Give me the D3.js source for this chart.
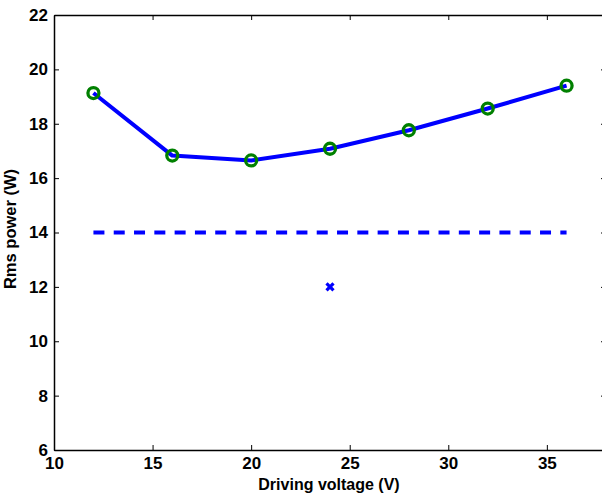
<!DOCTYPE html>
<html>
<head>
<meta charset="utf-8">
<script src="https://cdn.jsdelivr.net/npm/d3@7"></script>
<style>
  html, body { margin: 0; padding: 0; background: #fff; overflow: hidden; }
  text { font-family: "Liberation Sans", Arial, Helvetica, sans-serif; font-weight: bold; fill: #000; }
</style>
</head>
<body>
<svg id="chart" width="602" height="495"></svg>
<script>
// Measured rms power against driving voltage
const voltages = [12, 16, 20, 24, 28, 32, 36];
const rmsPower = [19.13, 16.83, 16.65, 17.08, 17.76, 18.56, 19.40];
// Reference level drawn as a dashed line
const refLevel = 14;
const refRange = [12, 36];
// Single marked point
const markPoint = [24, 12];
const xTicks = [10, 15, 20, 25, 30, 35];
const yTicks = [6, 8, 10, 12, 14, 16, 18, 20, 22];

const svg = d3.select("#chart");
const plotL = 54, plotT = 15, plotR = 606, plotB = 450;

const x = d3.scaleLinear().domain([10, 38]).range([plotL, plotR]);
const y = d3.scaleLinear().domain([6, 22]).range([plotB, plotT]);

// Frame axes with inward ticks on all four sides
const tickLen = 5;
const gB = svg.append("g").attr("transform", `translate(0,${plotB})`)
  .call(d3.axisBottom(x).tickValues(xTicks).tickSizeInner(-tickLen).tickSizeOuter(0).tickPadding(7));
const gT = svg.append("g").attr("transform", `translate(0,${plotT})`)
  .call(d3.axisTop(x).tickValues(xTicks).tickSizeInner(-tickLen).tickSizeOuter(0).tickFormat(""));
const gL = svg.append("g").attr("transform", `translate(${plotL},0)`)
  .call(d3.axisLeft(y).tickValues(yTicks).tickSizeInner(-tickLen).tickSizeOuter(0).tickPadding(6));
const gR = svg.append("g").attr("transform", `translate(${plotR},0)`)
  .call(d3.axisRight(y).tickValues(yTicks).tickSizeInner(-tickLen).tickSizeOuter(0).tickFormat(""));

[gB, gT, gL, gR].forEach(g => {
  g.select(".domain").attr("stroke", "#000").attr("stroke-width", 1.5);
  g.selectAll(".tick line").attr("stroke", "#000").attr("stroke-width", 1);
  g.selectAll("text").attr("font-size", 17).attr("font-family", "Liberation Sans, Arial, sans-serif")
    .attr("font-weight", "bold").attr("fill", "#000");
});

// Axis titles
svg.append("text").attr("x", 329).attr("y", 490)
  .attr("text-anchor", "middle").attr("font-size", 16).text("Driving voltage (V)");
svg.append("text").attr("transform", "translate(16,229) rotate(-90)")
  .attr("text-anchor", "middle").attr("font-size", 16.5).text("Rms power (W)");

// Dashed reference line
svg.append("line")
  .attr("x1", x(refRange[0])).attr("x2", x(refRange[1]))
  .attr("y1", y(refLevel)).attr("y2", y(refLevel))
  .attr("stroke", "#0000ff").attr("stroke-width", 4)
  .attr("stroke-dasharray", "11,9.3");

// Measured curve
const pts = voltages.map((v, i) => [v, rmsPower[i]]);
svg.append("path").datum(pts)
  .attr("fill", "none").attr("stroke", "#0000ff").attr("stroke-width", 4)
  .attr("stroke-linejoin", "round")
  .attr("d", d3.line().x(d => x(d[0])).y(d => y(d[1])));

// Circle markers
svg.selectAll("circle.m").data(pts).enter().append("circle")
  .attr("class", "m")
  .attr("cx", d => x(d[0])).attr("cy", d => y(d[1])).attr("r", 5.5)
  .attr("fill", "none").attr("stroke", "#008000").attr("stroke-width", 3.3);

// Cross marker
const cs = 3.5;
const mx = x(markPoint[0]), my = y(markPoint[1]);
svg.append("path")
  .attr("d", `M${mx - cs},${my - cs}L${mx + cs},${my + cs}M${mx - cs},${my + cs}L${mx + cs},${my - cs}`)
  .attr("stroke", "#0000ff").attr("stroke-width", 3.2).attr("fill", "none");
</script>
</body>
</html>
